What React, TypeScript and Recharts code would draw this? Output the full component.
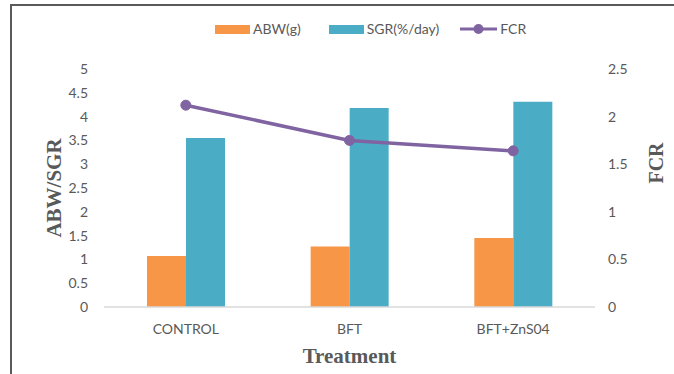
import { ComposedChart, Bar, Line, XAxis, YAxis, Label } from 'recharts';

const treatments = ['CONTROL', 'BFT', 'BFT+ZnS04'];
const abw = [1.07, 1.27, 1.45];
const sgr = [3.55, 4.18, 4.31];
const fcr = [2.12, 1.75, 1.64];
const leftTicks = [0, 0.5, 1, 1.5, 2, 2.5, 3, 3.5, 4, 4.5, 5];
const rightTicks = [0, 0.5, 1, 1.5, 2, 2.5];

const ORANGE = '#f79646';
const BLUE = '#4bacc6';
const PURPLE = '#8064a2';
const TEXT = '#595959';
const FONT = 'Lato, "Open Sans", sans-serif';
const TITLE_FONT = '"Liberation Serif", "Times New Roman", serif';

const data = treatments.map((name, i) => ({
  name,
  abw: abw[i],
  sgr: sgr[i],
  fcr: fcr[i],
}));

const tickStyle = { fill: TEXT, fontSize: 14, fontFamily: FONT };

const Legend = () => (
  <div
    style={{
      position: 'absolute',
      top: 20,
      left: 215,
      display: 'flex',
      alignItems: 'center',
      fontFamily: FONT,
      fontSize: 14,
      color: TEXT,
      lineHeight: '18px',
    }}
  >
    <span style={{ width: 35, height: 9, background: ORANGE, marginRight: 3 }} />
    <span style={{ marginRight: 28 }}>ABW(g)</span>
    <span style={{ width: 35, height: 9, background: BLUE, marginRight: 3 }} />
    <span style={{ marginRight: 21 }}>SGR(%/day)</span>
    <svg width={37} height={12} style={{ marginRight: 3 }}>
      <line x1={0} y1={6} x2={37} y2={6} stroke={PURPLE} strokeWidth={3} />
      <circle cx={18.5} cy={6} r={5} fill={PURPLE} />
    </svg>
    <span>FCR</span>
  </div>
);

const App = () => {
  return (
    <div style={{ position: 'fixed', left: 0, top: 0, width: 674, height: 374, background: '#fff', overflow: 'hidden' }}>
      <ComposedChart
        width={674}
        height={374}
        data={data}
        margin={{ top: 69, right: 0, bottom: 37, left: 10 }}
        barGap={0}
        style={{ position: 'absolute', left: 0, top: 0 }}
      >
        <XAxis
          dataKey="name"
          height={30}
          axisLine={{ stroke: '#d9d9d9', strokeWidth: 1.5 }}
          tickLine={false}
          tickMargin={11}
          tick={tickStyle}
        >
          <Label
            value="Treatment"
            position="bottom"
            offset={11}
            style={{ fill: TEXT, fontSize: 21, fontWeight: 'bold', fontFamily: TITLE_FONT }}
          />
        </XAxis>
        <YAxis
          yAxisId="left"
          width={94}
          domain={[0, 5]}
          ticks={leftTicks}
          interval={0}
          axisLine={false}
          tickLine={false}
          tickMargin={10}
          tick={tickStyle}
        >
          <Label
            content={(props: any) => {
              const vb = props.viewBox;
              const x = vb.x + 51;
              const y = vb.y + vb.height / 2;
              return (
                <text
                  x={x}
                  y={y}
                  transform={`rotate(-90, ${x}, ${y})`}
                  textAnchor="middle"
                  fill={TEXT}
                  fontSize={21}
                  fontWeight="bold"
                  fontFamily={TITLE_FONT}
                >
                  ABW/SGR
                </text>
              );
            }}
          />
        </YAxis>
        <YAxis
          yAxisId="right"
          orientation="right"
          width={79}
          domain={[0, 2.5]}
          ticks={rightTicks}
          interval={0}
          axisLine={false}
          tickLine={false}
          tickMargin={7}
          tick={{ ...tickStyle, textAnchor: 'start' }}
        >
          <Label
            content={(props: any) => {
              const vb = props.viewBox;
              const x = vb.x + 68;
              const y = vb.y + vb.height / 2 - 25;
              return (
                <text
                  x={x}
                  y={y}
                  transform={`rotate(-90, ${x}, ${y})`}
                  textAnchor="middle"
                  fill={TEXT}
                  fontSize={20}
                  fontWeight="bold"
                  fontFamily={TITLE_FONT}
                >
                  FCR
                </text>
              );
            }}
          />
        </YAxis>
        <Bar yAxisId="left" dataKey="abw" name="ABW(g)" fill={ORANGE} barSize={39} isAnimationActive={false} />
        <Bar yAxisId="left" dataKey="sgr" name="SGR(%/day)" fill={BLUE} barSize={39} isAnimationActive={false} />
        <Line
          yAxisId="right"
          dataKey="fcr"
          name="FCR"
          type="linear"
          stroke={PURPLE}
          strokeWidth={3.5}
          dot={{ r: 5, fill: PURPLE, stroke: PURPLE, strokeWidth: 1 }}
          activeDot={false}
          isAnimationActive={false}
        />
      </ComposedChart>
      <Legend />
      {/* frame lines along the left and top edges */}
      <div style={{ position: 'absolute', left: 10, top: 4, width: 2, height: 370, background: '#5a5a5a', zIndex: 2 }} />
      <div style={{ position: 'absolute', left: 10, top: 4, width: 664, height: 2, background: '#5a5a5a', zIndex: 2 }} />
    </div>
  );
};

export default App;
